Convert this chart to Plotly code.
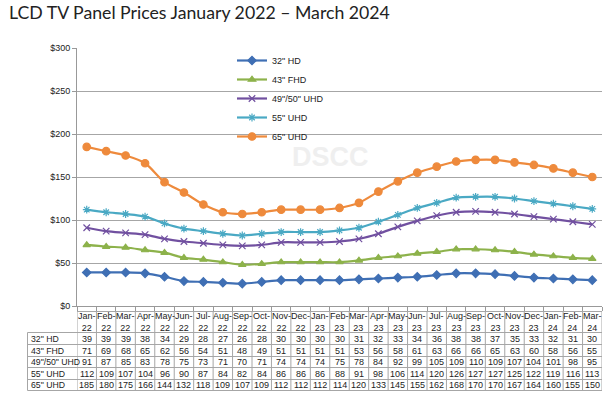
import plotly.graph_objects as go

months = ["Jan-22","Feb-22","Mar-22","Apr-22","May-22","Jun-22","Jul-22","Aug-22","Sep-22","Oct-22","Nov-22","Dec-22",
          "Jan-23","Feb-23","Mar-23","Apr-23","May-23","Jun-23","Jul-23","Aug-23","Sep-23","Oct-23","Nov-23","Dec-23",
          "Jan-24","Feb-24","Mar-24"]
hd32 = [39,39,39,38,34,29,28,27,26,28,30,30,30,30,31,32,33,34,36,38,38,37,35,33,32,31,30]
fhd43 = [71,69,68,65,62,56,54,51,48,49,51,51,51,51,53,56,58,61,63,66,66,65,63,60,58,56,55]
uhd50 = [91,87,85,83,78,75,73,71,70,71,74,74,74,75,78,84,92,99,105,109,110,109,107,104,101,98,95]
uhd55 = [112,109,107,104,96,90,87,84,82,84,86,86,86,88,91,98,106,114,120,126,127,127,125,122,119,116,113]
uhd65 = [185,180,175,166,144,132,118,109,107,109,112,112,112,114,120,133,145,155,162,168,170,170,167,164,160,155,150]
series_names = ['32" HD', '43" FHD', '49"/50" UHD', '55" UHD', '65" UHD']
series_vals = [hd32, fhd43, uhd50, uhd55, uhd65]
colors = ["#3f6fb4", "#8db24b", "#7150a0", "#4aa9c4", "#ee8a3c"]
symbols = ["diamond", "triangle-up", "x-thin-open", "asterisk-open", "circle"]
sizes = [6.5, 6.5, 6.5, 6.5, 7.5]

W, H = 613, 397
def px_x(x): return x / W
def px_y(y): return 1 - y / H

FONT = "Liberation Sans, Arial, sans-serif"
GRID = "#a6a6a6"

fig = go.Figure()
for name, vals, c, s, sz in zip(series_names, series_vals, colors, symbols, sizes):
    fig.add_trace(go.Scatter(
        x=months, y=vals, name=name, mode="lines+markers",
        line=dict(color=c, width=2.2, shape="spline", smoothing=0.8),
        marker=dict(symbol=s, size=sz, color=c, line=dict(color=c, width=1.2)),
    ))

# ---- data table below the chart (text as annotations on the category axis) ----
annotations = []
shapes = []
tbl_top, hdr_bot, row_h = 311.5, 332.5, 11.6
row_edges = [round(hdr_bot + k * row_h) + 0.5 for k in range(len(series_names) + 1)]
label_left, plot_left, plot_right = 27.5, 77, 602

hdr_center = (tbl_top + hdr_bot) / 2
for m in months:
    annotations.append(dict(text=m.replace("-", "-<br>"), x=m, xref="x", y=px_y(hdr_center),
                            yref="paper", showarrow=False, yanchor="middle",
                            font=dict(family=FONT, size=9, color="#222")))
for r, (name, vals) in enumerate(zip(series_names, series_vals)):
    yc = (row_edges[r] + row_edges[r + 1]) / 2
    annotations.append(dict(text=name, x=px_x(label_left + 1), xref="paper", xanchor="left",
                            y=px_y(yc), yref="paper", yanchor="middle", showarrow=False,
                            font=dict(family=FONT, size=8.7, color="#222")))
    for m, v in zip(months, vals):
        annotations.append(dict(text=str(v), x=m, xref="x", y=px_y(yc), yref="paper",
                                yanchor="middle", showarrow=False,
                                font=dict(family=FONT, size=9, color="#222")))

def ls():
    return dict(color=GRID, width=1)

# horizontal table lines
shapes.append(dict(type="line", xref="paper", yref="paper", layer="above",
                   x0=px_x(plot_left), x1=px_x(plot_right),
                   y0=px_y(tbl_top), y1=px_y(tbl_top), line=ls()))
for ye in row_edges:
    shapes.append(dict(type="line", xref="paper", yref="paper", layer="above",
                       x0=px_x(label_left), x1=px_x(plot_right),
                       y0=px_y(ye), y1=px_y(ye), line=ls()))
# vertical table lines
shapes.append(dict(type="line", xref="paper", yref="paper", layer="above",
                   x0=px_x(label_left), x1=px_x(label_left),
                   y0=px_y(hdr_bot), y1=px_y(row_edges[-1]), line=ls()))
for i in range(len(months) + 1):
    shapes.append(dict(type="line", xref="x", yref="paper", layer="above",
                       x0=i - 0.5, x1=i - 0.5,
                       y0=px_y(tbl_top), y1=px_y(row_edges[-1]), line=ls()))

annotations.append(dict(text="<b>DSCC</b>", x=px_x(330), y=px_y(157), xref="paper", yref="paper",
                        xanchor="center", yanchor="middle",
                        showarrow=False, font=dict(family=FONT, size=27, color="#efefef")))

fig.update_layout(
    width=W, height=H,
    margin=dict(l=0, r=0, t=0, b=0),
    paper_bgcolor="white", plot_bgcolor="white",
    title=dict(text="LCD TV Panel Prices January 2022 \u2013 March 2024",
               x=px_x(9), xanchor="left", y=px_y(13), yanchor="middle", pad=dict(l=0, r=0, t=0, b=0),
               font=dict(family="Lato, Open Sans, sans-serif", size=17.7, color="#222")),
    xaxis=dict(domain=[px_x(plot_left), px_x(plot_right)], range=[-0.5, len(months) - 0.5],
               showticklabels=False, showgrid=False, automargin=False,
               ticks="outside", tickson="boundaries", ticklen=4, tickcolor="#999",
               showline=True, linecolor="#999", linewidth=1, zeroline=False),
    yaxis=dict(domain=[px_y(306), px_y(48)], range=[0, 300], dtick=50, automargin=False,
               tickprefix="$", showgrid=True, gridcolor=GRID, gridwidth=1,
               showline=True, linecolor="#999", ticks="outside", ticklen=4, tickcolor="#999",
               zeroline=False,
               tickfont=dict(family=FONT, size=9, color="#222")),
    legend=dict(x=px_x(232), y=px_y(46), xanchor="left", yanchor="top",
                bgcolor="rgba(0,0,0,0)", tracegroupgap=0, itemwidth=30,
                font=dict(family=FONT, size=9, color="#222")),
    annotations=annotations,
    shapes=shapes,
)

fig.write_html("out.html", config={"displayModeBar": False},
               post_script="document.body.style.margin='0';document.body.style.overflow='hidden';")
